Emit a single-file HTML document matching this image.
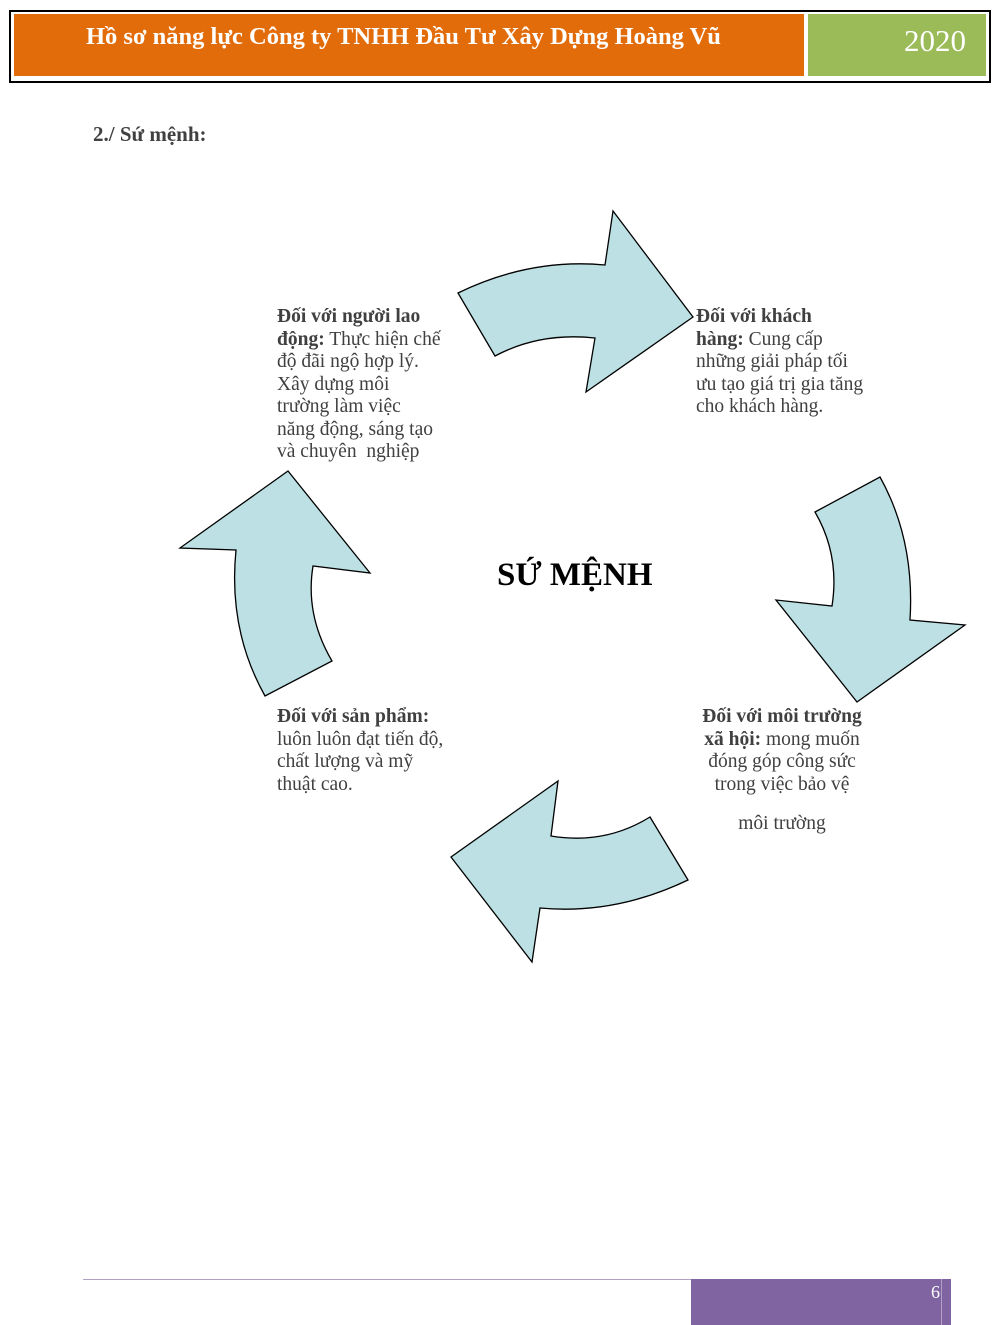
<!DOCTYPE html>
<html><head><meta charset="utf-8"><style>
body{margin:0;background:#fff;}
.pg{position:relative;width:1000px;height:1325px;overflow:hidden;font-family:"Liberation Serif",serif;}
.t{position:absolute;font-size:19.5px;line-height:22.5px;color:#404040;white-space:nowrap;}
.t b{color:#404040;}
</style></head><body><div class="pg">
<div style="position:absolute;left:9px;top:10px;width:982px;height:73px;border:2px solid #000;box-sizing:border-box;"></div>
<div style="position:absolute;left:14px;top:14px;width:790px;height:62px;background:#e36c0a;"></div>
<div style="position:absolute;left:808px;top:14px;width:178px;height:62px;background:#9bbb59;"></div>
<div style="position:absolute;left:86px;top:23px;color:#fff;font-weight:bold;font-size:24.5px;">Hồ sơ năng lực Công ty TNHH Đầu Tư Xây Dựng Hoàng Vũ</div>
<div style="position:absolute;left:904px;top:23px;color:#fff;font-size:31px;">2020</div>
<div style="position:absolute;left:93px;top:122px;color:#404040;font-weight:bold;font-size:21px;">2./ Sứ mệnh:</div>

<svg width="1000" height="1325" style="position:absolute;left:0;top:0" fill="#bce0e3" stroke="#000" stroke-width="1.3">
<path d="M458,293 Q530,258 605,265 L613,211 L693,317 L586,392 L595,338 Q540,332 495,356 Z"/>
<path d="M815,512 L880,477 Q915,540 910,620 L965,625 L857,702 L776,600 L832,606 Q840,555 815,512 Z"/>
<path d="M650,817 L688,880 Q615,915 540,908 L532,962 L451,857 L558,781 L551,836 Q605,845 650,817 Z"/>
<path d="M265,696 Q228,630 236,550 L180,548 L288,471 L370,573 L313,566 Q305,615 332,661 Z"/>
</svg>

<div style="position:absolute;left:497px;top:557px;font-size:33px;font-weight:bold;color:#000;">SỨ MỆNH</div>

<div class="t" style="left:277px;top:306px;"><b>Đối với người lao</b><br><b>động:</b> Thực hiện chế<br>độ đãi ngộ hợp lý.<br>Xây dựng môi<br>trường làm việc<br>năng động, sáng tạo<br>và chuyên&nbsp; nghiệp</div>
<div class="t" style="left:696px;top:306px;"><b>Đối với khách</b><br><b>hàng:</b> Cung cấp<br>những giải pháp tối<br>ưu tạo giá trị gia tăng<br>cho khách hàng.</div>
<div class="t" style="left:277px;top:706px;"><b>Đối với sản phẩm:</b><br>luôn luôn đạt tiến độ,<br>chất lượng và mỹ<br>thuật cao.</div>
<div class="t" style="left:672px;top:706px;width:220px;text-align:center;"><b>Đối với môi trường</b><br><b>xã hội:</b> mong muốn<br>đóng góp công sức<br>trong việc bảo vệ<br><div style="height:17px"></div>môi trường</div>

<div style="position:absolute;left:83px;top:1279px;width:608px;height:1px;background:#b2a1c7;"></div>
<div style="position:absolute;left:691px;top:1279px;width:260px;height:46px;background:#8064a2;"></div>
<div style="position:absolute;left:941px;top:1279px;width:1px;height:46px;background:#b2a1c7;"></div>
<div style="position:absolute;left:931px;top:1282px;color:#fff;font-size:18px;">6</div>
</div></body></html>
